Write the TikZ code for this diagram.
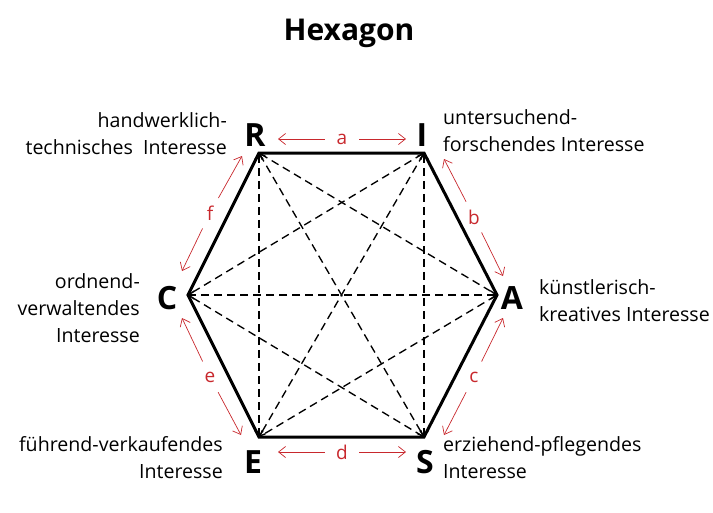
\documentclass[tikz,border=0pt]{standalone}
\usepackage{fontspec}
\setmainfont{Open Sans}
\usetikzlibrary{arrows.meta}
\definecolor{arrred}{RGB}{200,40,45}
\begin{document}
\begin{tikzpicture}[x=1pt,y=-1pt,
  txt/.style={font=\fontsize{19.6}{27}\selectfont, inner sep=0pt, align=#1},
  vlet/.style={font=\fontsize{32}{32}\selectfont\bfseries, inner sep=0pt, anchor=base},
  side/.style={line width=3pt, line join=miter},
  diag/.style={line width=1.35pt, dash pattern=on 8pt off 5pt, {Straight Barb[length=5pt,width=8pt]}-{Straight Barb[length=5pt,width=8pt]}},
  rlab/.style={circle, minimum size=34pt, inner sep=0pt, text=arrred, font=\fontsize{19}{19}\selectfont},
  rarr/.style={draw=arrred, line width=0.7pt, -{Straight Barb[length=7pt,width=11pt]}}]
\useasboundingbox (0,0) rectangle (713,512);
% title
\node[font=\fontsize{30}{30}\selectfont\bfseries, anchor=base, inner sep=0pt] (title) at (349,40) {Hexagon};
% vertices
\coordinate (R) at (259,153);
\coordinate (I) at (424,153);
\coordinate (A) at (497,295);
\coordinate (S) at (424,437);
\coordinate (E) at (259,437);
\coordinate (C) at (188,295);
% diagonals
\foreach \p/\q in {R/A,R/S,R/E,I/S,I/E,I/C,A/E,A/C,S/C}
  \draw[diag] (\p) -- (\q);
% sides
\draw[side] (R) -- (I) -- (A) -- (S) -- (E) -- (C) -- cycle;
% vertex letters
\node[vlet] (lR) at (255,146) {R};
\node[vlet] (lI) at (422,146) {I};
\node[vlet] (lA) at (512,309) {A};
\node[vlet] (lC) at (167,309) {C};
\node[vlet] (lE) at (253,473) {E};
\node[vlet] (lS) at (425,473) {S};
% descriptions (anchor base = last line)
\node[txt=right, anchor=base east] (tR) at (227,154) {handwerklich-\\technisches\ \ Interesse};
\node[txt=left, anchor=base west] (tI) at (443,151) {untersuchend-\\forschendes Interesse};
\node[txt=right, anchor=base east] (tC) at (140,342) {ordnend-\\verwaltendes\\Interesse};
\node[txt=left, anchor=base west] (tA) at (539,321) {künstlerisch-\\kreatives Interesse};
\node[txt=right, anchor=base east] (tE) at (223,478) {führend-verkaufendes\\Interesse};
\node[txt=left, anchor=base west] (tS) at (443,478) {erziehend-pflegendes\\Interesse};
% red distance labels
\node[rlab] (la) at (342,139) {a};
\node[rlab] (ld) at (342,452) {d};
\node[rlab] (lb) at (474,217) {b};
\node[rlab] (lf) at (210,213) {f};
\node[rlab] (le) at (210,377) {e};
\node[rlab] (lc) at (474,377) {c};
\coordinate (a1) at (278,139); \coordinate (a2) at (406,139);
\coordinate (d1) at (278,452); \coordinate (d2) at (406,452);
\coordinate (b1) at (444,159); \coordinate (b2) at (503,276);
\coordinate (f1) at (242,156); \coordinate (f2) at (182,271);
\coordinate (e1) at (182,318); \coordinate (e2) at (241,435);
\coordinate (c1) at (503,318); \coordinate (c2) at (444,435);
\foreach \l in {a,b,c,d,e,f} {
  \draw[rarr] (l\l) -- (\l1);
  \draw[rarr] (l\l) -- (\l2);
}
\end{tikzpicture}
\end{document}
